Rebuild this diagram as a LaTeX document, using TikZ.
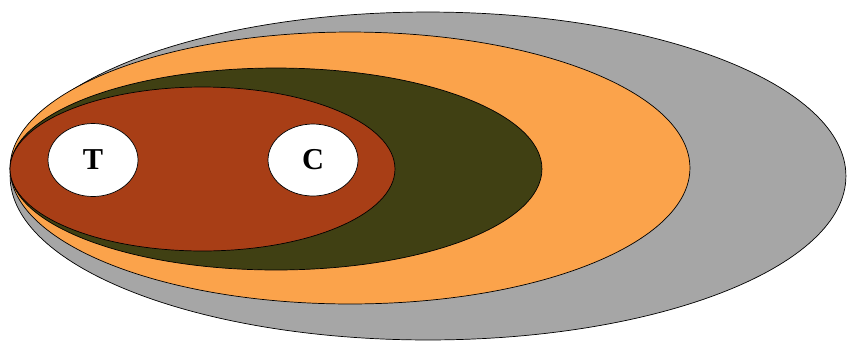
\documentclass[tikz,border=0pt]{standalone}
\usepackage{fontspec}
\setmainfont{Liberation Serif}
\usetikzlibrary{shapes.geometric}

\definecolor{outergray}{HTML}{A6A6A6}
\definecolor{orangezone}{HTML}{FBA34B}
\definecolor{olivezone}{HTML}{404013}
\definecolor{rustzone}{HTML}{A83E16}

\begin{document}
\begin{tikzpicture}[x=0.02cm,y=-0.02cm]

\tikzstyle{every node}=[draw,shape=ellipse,inner sep=0pt,anchor=center,font=\LARGE\bfseries];

\useasboundingbox (0,0) rectangle (847,342);

% Nested regions, outermost first
\node[fill=outergray,minimum width=16.72cm,minimum height=6.56cm] (gray) at (428,176) {};
\node[fill=orangezone,minimum width=13.6cm,minimum height=5.44cm] (orange) at (350,168) {};
\node[fill=olivezone,minimum width=10.64cm,minimum height=4.04cm] (olive) at (276,169) {};
\node[fill=rustzone,minimum width=7.7cm,minimum height=3.28cm] (rust) at (202.5,169) {};

% The two white cells
\node[fill=white,minimum width=1.8cm,minimum height=1.46cm] (t) at (93,160) {T};
\node[fill=white,minimum width=1.8cm,minimum height=1.44cm] (c) at (313,160) {C};

\end{tikzpicture}
\end{document}
